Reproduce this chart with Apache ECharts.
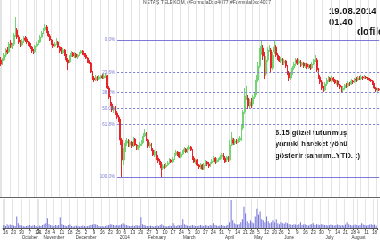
<!DOCTYPE html>
<html><head><meta charset="utf-8">
<script src="https://cdn.jsdelivr.net/npm/echarts@6/dist/echarts.min.js"></script>
<style>html,body{margin:0;padding:0;background:#fff}#c{width:380px;height:240px}</style>
</head><body><div id="c"></div>
<script>
const startDate = '2013-09-13';
const holidays = ['2013-10-15','2013-10-16','2013-10-17','2013-10-18','2013-10-29','2014-01-01','2014-04-23','2014-05-01','2014-05-19','2014-07-29','2014-07-30'];
const monthNames = ['2014','February','March','April','May','June','July','August','September','October','November','December'];

const opens = [
6.80,6.72,6.80,6.90,7.00,6.96,7.14,7.06,7.12,7.30,
7.40,7.26,7.16,7.10,7.18,7.24,7.22,7.16,7.12,7.06,
6.98,6.96,7.08,7.12,7.16,7.26,7.34,7.40,7.46,7.36,
7.28,7.20,7.12,7.08,7.12,7.16,7.06,7.02,6.94,7.00,
6.90,6.80,6.76,6.88,6.94,6.88,6.92,6.86,6.90,6.94,
6.98,6.92,6.90,6.84,6.78,6.74,6.56,6.44,6.40,6.46,
6.42,6.46,6.48,6.44,6.48,6.48,6.24,6.04,5.92,5.80,
5.84,5.74,5.66,5.60,5.20,4.80,5.00,5.14,5.18,5.10,
5.16,5.08,5.22,5.10,5.02,5.08,5.12,5.16,5.28,5.32,
5.20,5.08,5.12,5.00,4.90,4.96,4.84,4.78,4.74,4.64,
4.68,4.66,4.70,4.74,4.80,4.76,4.82,4.90,4.96,4.92,
4.86,4.92,4.98,5.02,4.96,5.02,5.06,5.00,4.84,4.76,
4.80,4.70,4.66,4.70,4.62,4.70,4.76,4.72,4.68,4.74,
4.78,4.84,4.76,4.80,4.82,4.86,4.90,4.84,4.80,4.86,
4.80,5.10,5.20,5.14,5.18,5.16,5.20,5.20,5.44,5.76,
6.08,6.04,5.88,5.96,5.92,6.06,6.12,6.40,6.68,6.96,
7.04,6.92,6.52,6.80,7.00,7.00,6.64,6.96,7.06,6.90,
6.84,6.78,6.82,6.74,6.78,6.68,6.54,6.44,6.52,6.64,
6.72,6.80,6.74,6.78,6.70,6.74,6.68,6.72,6.66,6.70,
6.64,6.72,6.78,6.80,6.60,6.46,6.36,6.24,6.20,6.32,
6.40,6.44,6.38,6.44,6.40,6.34,6.38,6.30,6.26,6.20,
6.24,6.30,6.28,6.34,6.32,6.38,6.36,6.42,6.40,6.44,
6.42,6.46,6.44,6.46,6.44,6.42,6.40,6.38,6.32,6.24,
6.20,6.22];
const closes = [
6.72,6.80,6.90,7.00,6.96,7.12,7.06,7.10,7.30,7.44,
7.26,7.16,7.10,7.18,7.24,7.20,7.16,7.12,7.06,6.98,
6.96,7.08,7.12,7.16,7.26,7.34,7.40,7.46,7.36,7.28,
7.20,7.12,7.08,7.12,7.16,7.06,6.98,6.94,7.00,6.90,
6.80,6.74,6.88,6.94,6.88,6.92,6.86,6.90,6.94,6.98,
6.92,6.90,6.84,6.78,6.74,6.56,6.44,6.40,6.46,6.42,
6.46,6.48,6.44,6.48,6.50,6.24,6.06,5.92,5.80,5.84,
5.74,5.66,5.60,5.20,4.80,5.00,5.14,5.18,5.10,5.16,
5.08,5.22,5.10,5.02,5.08,5.12,5.16,5.28,5.34,5.20,
5.08,5.12,5.00,4.90,4.96,4.84,4.78,4.74,4.64,4.68,
4.66,4.70,4.74,4.80,4.76,4.82,4.90,4.96,4.90,4.86,
4.92,4.98,5.02,4.96,5.02,5.06,5.00,4.84,4.76,4.80,
4.70,4.66,4.70,4.62,4.70,4.76,4.72,4.68,4.74,4.78,
4.84,4.76,4.80,4.82,4.86,4.90,4.84,4.76,4.86,4.78,
5.10,5.24,5.14,5.18,5.16,5.20,5.24,5.44,5.76,6.08,
6.16,5.88,5.96,5.88,6.06,6.12,6.40,6.68,6.96,7.08,
6.88,6.48,6.80,7.00,7.04,6.64,6.90,7.06,6.90,6.84,
6.78,6.82,6.74,6.78,6.68,6.54,6.44,6.52,6.64,6.72,
6.80,6.74,6.78,6.70,6.74,6.68,6.72,6.66,6.70,6.64,
6.72,6.78,6.80,6.60,6.46,6.36,6.24,6.20,6.32,6.40,
6.44,6.38,6.44,6.40,6.34,6.38,6.30,6.26,6.20,6.24,
6.30,6.28,6.34,6.32,6.38,6.36,6.42,6.40,6.44,6.42,
6.46,6.44,6.46,6.44,6.42,6.40,6.38,6.32,6.24,6.20,
6.22,6.20];
const lows = [
6.68,6.70,6.78,6.86,6.92,6.94,7.04,7.02,7.08,7.26,
7.22,7.12,7.06,7.08,7.14,7.16,7.12,7.08,7.02,6.94,
6.92,6.94,7.06,7.10,7.14,7.24,7.32,7.38,7.34,7.26,
7.18,7.10,7.04,7.06,7.10,7.04,6.94,6.92,6.92,6.88,
6.76,6.60,6.74,6.86,6.86,6.84,6.84,6.82,6.88,6.92,
6.90,6.86,6.82,6.74,6.72,6.54,6.40,6.36,6.38,6.38,
6.40,6.42,6.42,6.42,6.44,6.22,6.02,5.88,5.76,5.74,
5.70,5.62,5.56,5.10,4.46,4.70,4.96,5.08,5.06,5.06,
5.04,5.06,5.08,5.00,5.00,5.04,5.08,5.14,5.26,5.18,
5.04,5.04,4.98,4.88,4.86,4.80,4.74,4.70,4.46,4.60,
4.62,4.64,4.68,4.72,4.74,4.74,4.80,4.88,4.88,4.84,
4.84,4.90,4.96,4.94,4.94,5.00,4.98,4.80,4.74,4.72,
4.68,4.62,4.62,4.60,4.60,4.68,4.68,4.64,4.66,4.72,
4.76,4.72,4.74,4.76,4.80,4.82,4.80,4.74,4.76,4.76,
4.78,5.08,5.10,5.10,5.12,5.14,5.16,5.18,5.40,5.72,
6.00,5.82,5.84,5.84,5.88,6.02,6.10,6.36,6.64,6.90,
6.80,6.42,6.48,6.76,6.96,6.56,6.60,6.92,6.86,6.80,
6.76,6.74,6.70,6.70,6.64,6.50,6.38,6.40,6.50,6.60,
6.68,6.70,6.72,6.66,6.68,6.64,6.64,6.62,6.62,6.60,
6.62,6.70,6.76,6.56,6.42,6.32,6.20,6.16,6.18,6.28,
6.36,6.36,6.36,6.36,6.32,6.30,6.26,6.22,6.14,6.16,
6.20,6.24,6.26,6.28,6.30,6.32,6.34,6.36,6.38,6.40,
6.40,6.40,6.42,6.42,6.40,6.38,6.36,6.30,6.22,6.16,
6.16,6.18];
const highs = [
6.86,6.84,6.94,7.04,7.06,7.16,7.20,7.14,7.34,7.66,
7.44,7.30,7.20,7.22,7.28,7.28,7.26,7.18,7.14,7.08,
7.02,7.10,7.16,7.20,7.30,7.38,7.44,7.52,7.50,7.38,
7.32,7.22,7.16,7.16,7.24,7.18,7.08,7.06,7.04,7.02,
6.92,6.84,6.90,6.98,6.96,6.96,6.94,6.92,6.96,7.00,
7.00,6.94,6.94,6.86,6.80,6.76,6.58,6.48,6.50,6.48,
6.50,6.50,6.52,6.52,6.54,6.50,6.28,6.08,5.96,5.88,
5.88,5.78,5.70,5.62,5.24,5.04,5.20,5.24,5.22,5.20,
5.18,5.26,5.24,5.12,5.10,5.16,5.20,5.34,5.42,5.36,
5.22,5.16,5.14,5.04,5.00,4.98,4.90,4.82,4.76,4.72,
4.72,4.74,4.78,4.84,4.82,4.86,4.94,5.00,4.98,4.96,
4.96,5.00,5.06,5.04,5.06,5.10,5.08,5.02,4.88,4.82,
4.82,4.72,4.74,4.72,4.74,4.80,4.78,4.76,4.76,4.82,
4.88,4.86,4.84,4.84,4.90,4.94,4.94,4.88,4.88,4.88,
5.20,5.36,5.24,5.22,5.22,5.24,5.28,5.50,5.80,6.24,
6.28,6.10,6.02,6.04,6.10,6.16,6.50,6.76,7.04,7.20,
7.10,6.96,6.88,7.06,7.10,7.04,6.96,7.20,7.10,6.94,
6.88,6.86,6.84,6.82,6.80,6.70,6.58,6.56,6.68,6.76,
6.84,6.84,6.82,6.80,6.76,6.76,6.74,6.74,6.72,6.72,
6.76,6.82,6.90,6.84,6.64,6.50,6.40,6.28,6.36,6.44,
6.48,6.46,6.48,6.46,6.42,6.40,6.40,6.32,6.28,6.28,
6.32,6.34,6.38,6.36,6.42,6.40,6.44,6.46,6.48,6.48,
6.50,6.48,6.50,6.48,6.46,6.44,6.42,6.40,6.34,6.26,
6.24,6.24];
const volumes = [
300,200,400,250,350,300,250,200,1200,500,
300,250,200,150,200,250,300,200,250,300,
200,150,250,200,300,400,500,1000,400,300,
250,200,300,250,300,1100,400,300,250,200,
300,350,200,150,200,250,200,150,200,250,
200,150,200,250,300,350,400,400,300,200,
150,200,150,200,250,300,400,350,300,250,
300,250,300,400,500,350,300,250,200,200,
250,200,300,250,250,1100,400,300,250,200,
200,250,200,150,200,250,200,300,400,250,
200,150,200,250,200,500,250,200,300,250,
300,900,400,300,250,200,250,300,250,200,
200,250,300,250,200,300,250,200,300,250,
500,300,250,200,250,300,250,200,250,300,
600,2900,800,500,400,350,400,600,900,2200,
1500,700,500,800,600,500,1200,2000,1400,1700,
900,800,600,1200,700,500,600,800,600,900,
500,400,600,500,450,600,500,400,350,300,
400,350,300,400,600,300,350,400,300,250,
350,400,500,300,400,350,300,400,350,300,
300,250,300,350,300,250,300,350,300,250,
300,250,350,600,400,300,250,300,350,300,
250,300,500,350,300,250,300,350,400,300,
350,250];

const fibLevels = [7.20, 6.553, 6.153, 5.83, 5.507, 4.46];
const fibLabels = ['0.0%', '23.6%', '38.2%', '50.0%', '61.8%', '100.0%'];
const fibStart = '2013-12-30';

function tradingDays(start, n, hol) {
  const out = [];
  const d = new Date(start + 'T00:00:00Z');
  while (out.length < n) {
    const w = d.getUTCDay();
    const s = d.toISOString().slice(0, 10);
    if (w !== 0 && w !== 6 && hol.indexOf(s) < 0) out.push(s);
    d.setUTCDate(d.getUTCDate() + 1);
  }
  return out;
}
const dates = tradingDays(startDate, closes.length, holidays);
const weekStart = dates.map((s, i) => {
  if (i === 0) return true;
  const a = new Date(dates[i - 1] + 'T00:00:00Z'), b = new Date(s + 'T00:00:00Z');
  return b.getUTCDay() <= a.getUTCDay() || (b - a) >= 7 * 864e5;
});
const labelText = {};
let prevMonth = -1;
dates.forEach((s, i) => {
  if (!weekStart[i]) return;
  const m = +s.slice(5, 7) - 1, day = +s.slice(8, 10);
  let t = String(day);
  if (prevMonth !== -1 && m !== prevMonth) t += '\n' + monthNames[m];
  prevMonth = m;
  labelText[s] = t;
});

const ohlc = dates.map((d, i) => [opens[i], closes[i], lows[i], highs[i]]);
const fibColor = '#7b7bd6';

const chart = echarts.init(document.getElementById('c'), null, {renderer: 'canvas'});
chart.setOption({
  animation: false,
  backgroundColor: '#ffffff',
  grid: [
    {left: 0, right: 0, top: 0, height: 197},
    {left: 0, right: 0, top: 199, height: 30}
  ],
  xAxis: [
    {type: 'category', gridIndex: 0, data: dates, boundaryGap: true,
     axisLine: {show: true, lineStyle: {color: '#666', width: 1}},
     axisTick: {show: false}, axisLabel: {show: false},
     splitLine: {show: true, interval: (i) => weekStart[i], lineStyle: {color: '#e4e4e4', width: 1}}},
    {type: 'category', gridIndex: 1, data: dates, boundaryGap: true,
     axisLine: {show: true, lineStyle: {color: '#555', width: 1}},
     axisTick: {show: true, interval: (i) => weekStart[i], length: 2, lineStyle: {color: '#555'}},
     axisLabel: {show: true, interval: (i) => weekStart[i], formatter: (v) => labelText[v] || '',
       fontSize: 4.5, lineHeight: 5, color: '#333', margin: 2, fontFamily: 'Liberation Sans'},
     splitLine: {show: true, interval: (i) => weekStart[i], lineStyle: {color: '#e4e4e4', width: 1}}}
  ],
  yAxis: [
    {type: 'value', gridIndex: 0, min: 4.06, max: 8.00, show: false, splitLine: {show: false}},
    {type: 'value', gridIndex: 1, min: 0, max: 3000, show: false, splitLine: {show: false}}
  ],
  series: [
    {type: 'candlestick', xAxisIndex: 0, yAxisIndex: 0, data: ohlc, barWidth: '80%',
     itemStyle: {color: '#74d474', color0: '#e8262a', borderColor: '#74d474', borderColor0: '#e8262a', borderWidth: 1},
     markLine: {
       silent: true, symbol: ['none', 'none'], animation: false,
       label: {show: true, position: 'start', formatter: '{b}', fontSize: 4.5, color: fibColor, distance: 2, fontFamily: 'Liberation Sans'},
       lineStyle: {color: fibColor, width: 1},
       data: fibLevels.map((v, k) => [
         {name: fibLabels[k], coord: [fibStart, v],
          lineStyle: {color: fibColor, width: 1, type: (k === 0 || k === fibLevels.length - 1) ? 'solid' : [2, 2]}},
         {coord: [dates[dates.length - 1], v]}
       ])
     }},
    {type: 'bar', xAxisIndex: 1, yAxisIndex: 1, data: volumes, barWidth: 1,
     itemStyle: {color: '#7474dc'}}
  ],
  graphic: [
    {type: 'text', left: 143, top: 0, style: {text: 'NETAŞ TELEKOM, #FormulaDxo4077 #FormulaDxo4077', font: '5px "Liberation Sans"', fill: '#444'}},
    {type: 'text', left: 329, top: 6, style: {text: '19.08.2014', font: 'bold 9.5px "Liberation Sans"', fill: '#111'}},
    {type: 'text', left: 329, top: 17, style: {text: '01.40', font: 'bold 9.5px "Liberation Sans"', fill: '#111'}},
    {type: 'text', left: 357, top: 27, style: {text: 'dofilo', font: 'bold 10px "Liberation Sans"', fill: '#111'}},
    {type: 'text', left: 275, top: 127, style: {text: '6.15 güzel tutunmuş\nyarınki hareket yönü\ngösterir sanırım..YTD. :)', font: 'bold 7.5px "Liberation Sans"', lineHeight: 11.5, fill: '#111'}}
  ]
});
</script>
</body></html>
